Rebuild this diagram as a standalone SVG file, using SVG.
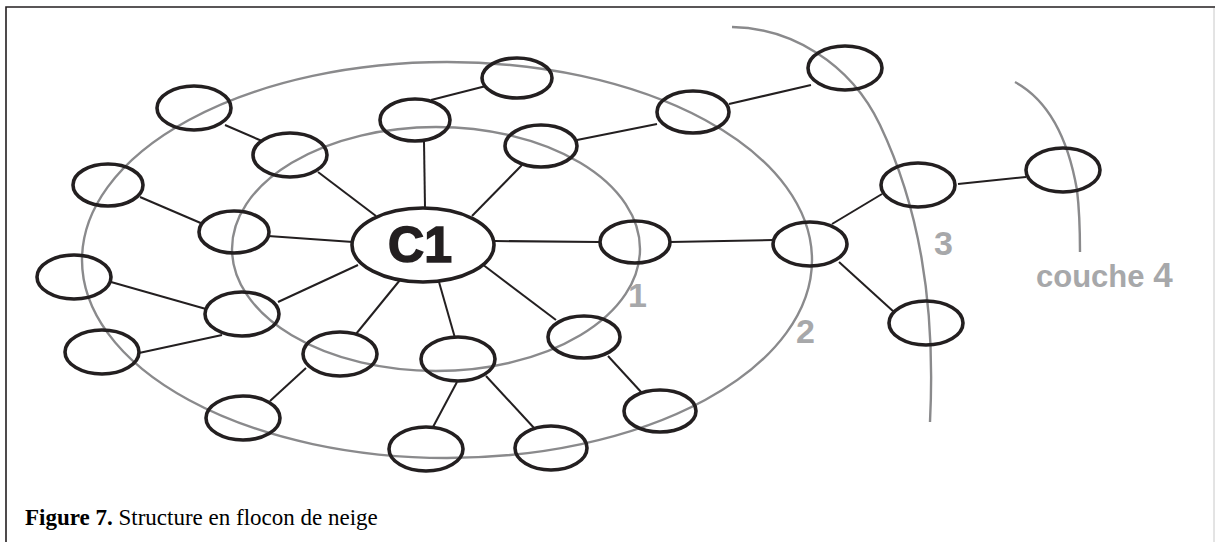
<svg xmlns="http://www.w3.org/2000/svg" width="1215" height="542" viewBox="0 0 1215 542">
<style>
.n{fill:none;stroke:#231f20;stroke-width:3.6}
.e{stroke:#231f20;stroke-width:2;fill:none}
.g{fill:none;stroke:#8a8a8c;stroke-width:2.4}
.lab{font-family:"Liberation Sans",Arial,sans-serif;font-weight:bold;fill:#a7a8aa}
</style>
<rect width="1215" height="542" fill="#fff"/>
<g id="frame">
<path d="M6,560 V7 H1215" fill="none" stroke="#231f20" stroke-width="1.6"/>
<path d="M1214,8 V560" fill="none" stroke="#c8c8c8" stroke-width="1"/>
</g>
<g id="layers">
<ellipse class="g" cx="436" cy="249" rx="204" ry="122"/>
<ellipse class="g" cx="447" cy="260" rx="365" ry="198"/>
<path class="g" d="M732,27 C790,28 850,62 880,125 C918,205 936,300 930,422"/>
<path class="g" d="M1015,82 C1048,100 1068,138 1077,190 C1080,215 1080,235 1080,252"/>
</g>
<g id="connectors">
<line class="e" x1="268" y1="236" x2="353" y2="242"/>
<line class="e" x1="318" y1="172" x2="376" y2="216"/>
<line class="e" x1="424" y1="141" x2="425" y2="208"/>
<line class="e" x1="522" y1="165" x2="472" y2="216"/>
<line class="e" x1="495" y1="241" x2="599" y2="242"/>
<line class="e" x1="482" y1="264" x2="556" y2="320"/>
<line class="e" x1="439" y1="282" x2="455" y2="338"/>
<line class="e" x1="400" y1="280" x2="356" y2="334"/>
<line class="e" x1="358" y1="265" x2="278" y2="302"/>
<line class="e" x1="431" y1="100" x2="486" y2="86"/>
<line class="e" x1="577" y1="140" x2="657" y2="124"/>
<line class="e" x1="729" y1="104" x2="811" y2="85"/>
<line class="e" x1="225" y1="125" x2="262" y2="141"/>
<line class="e" x1="140" y1="197" x2="203" y2="224"/>
<line class="e" x1="111" y1="282" x2="206" y2="309"/>
<line class="e" x1="139" y1="353" x2="222" y2="335"/>
<line class="e" x1="306" y1="368" x2="270" y2="401"/>
<line class="e" x1="457" y1="382" x2="433" y2="427"/>
<line class="e" x1="486" y1="376" x2="535" y2="429"/>
<line class="e" x1="608" y1="356" x2="642" y2="393"/>
<line class="e" x1="670" y1="242" x2="773" y2="240"/>
<line class="e" x1="832" y1="224" x2="882" y2="194"/>
<line class="e" x1="958" y1="184" x2="1026" y2="177"/>
<line class="e" x1="839" y1="262" x2="894" y2="312"/>
</g>
<g id="c1">
<ellipse class="n" cx="423" cy="245" rx="71" ry="37"/>
<text x="420" y="262" text-anchor="middle" font-family="'Liberation Sans',Arial,sans-serif" font-weight="bold" font-size="50" fill="#231f20" stroke="#231f20" stroke-width="1.6">C1</text>
</g>
<g id="n1"><ellipse class="n" cx="517" cy="78" rx="35" ry="20"/></g>
<g id="n2"><ellipse class="n" cx="845" cy="68" rx="37" ry="22"/></g>
<g id="n3"><ellipse class="n" cx="693" cy="112" rx="36" ry="21"/></g>
<g id="n4"><ellipse class="n" cx="415" cy="120" rx="35" ry="21"/></g>
<g id="n5"><ellipse class="n" cx="194" cy="108" rx="37" ry="22"/></g>
<g id="n6"><ellipse class="n" cx="290" cy="155" rx="37" ry="22"/></g>
<g id="n7"><ellipse class="n" cx="541" cy="146" rx="36" ry="21"/></g>
<g id="n8"><ellipse class="n" cx="108" cy="185" rx="35" ry="21"/></g>
<g id="n9"><ellipse class="n" cx="234" cy="232" rx="35" ry="21"/></g>
<g id="n11"><ellipse class="n" cx="635" cy="242" rx="35" ry="21"/></g>
<g id="n12"><ellipse class="n" cx="810" cy="244" rx="37" ry="22"/></g>
<g id="n13"><ellipse class="n" cx="918" cy="185" rx="37" ry="22"/></g>
<g id="n14"><ellipse class="n" cx="1063" cy="170" rx="37" ry="22"/></g>
<g id="n15"><ellipse class="n" cx="926" cy="323" rx="37" ry="22"/></g>
<g id="n16"><ellipse class="n" cx="74" cy="277" rx="37" ry="22"/></g>
<g id="n17"><ellipse class="n" cx="242" cy="314" rx="37" ry="22"/></g>
<g id="n18"><ellipse class="n" cx="102" cy="352" rx="37" ry="22"/></g>
<g id="n19"><ellipse class="n" cx="340" cy="354" rx="37" ry="22"/></g>
<g id="n20"><ellipse class="n" cx="458" cy="359" rx="37" ry="22"/></g>
<g id="n21"><ellipse class="n" cx="584" cy="337" rx="36" ry="21"/></g>
<g id="n22"><ellipse class="n" cx="243" cy="418" rx="37" ry="22"/></g>
<g id="n23"><ellipse class="n" cx="426" cy="449" rx="37" ry="22"/></g>
<g id="n24"><ellipse class="n" cx="551" cy="448" rx="36" ry="22"/></g>
<g id="n25"><ellipse class="n" cx="660" cy="411" rx="36" ry="21"/></g>
<g id="labels">
<text class="lab" x="628" y="307" font-size="34">1</text>
<text class="lab" x="796" y="343" font-size="34">2</text>
<text class="lab" x="934" y="255" font-size="34">3</text>
<text class="lab" x="1036" y="287" font-size="31">couche <tspan font-size="35">4</tspan></text>
</g>
<g id="caption">
<text x="25" y="525" font-family="'Liberation Serif','Times New Roman',serif" font-size="23" fill="#000"><tspan font-weight="bold">Figure 7.</tspan> Structure en flocon de neige</text>
</g>
</svg>
